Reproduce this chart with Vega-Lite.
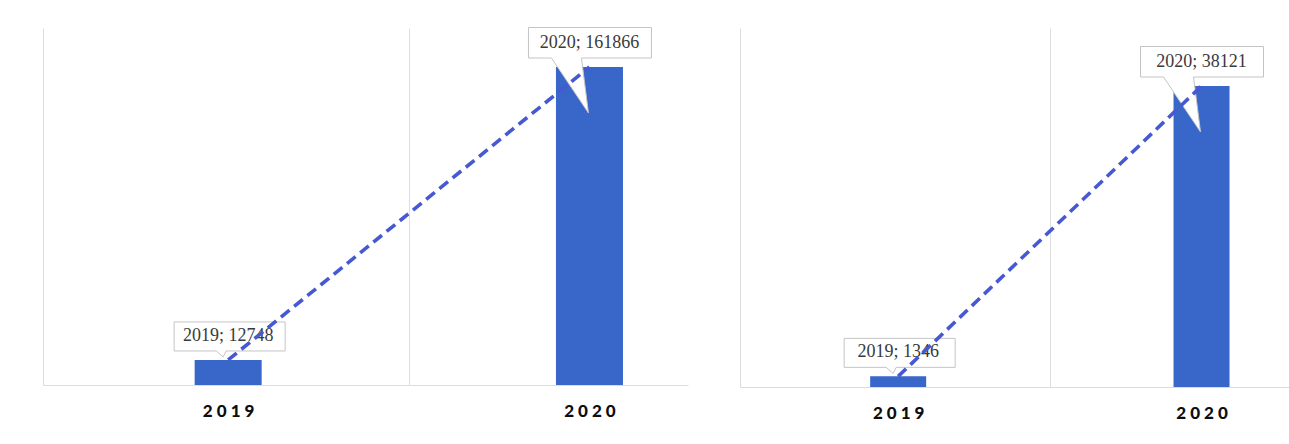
{
  "$schema": "https://vega.github.io/schema/vega-lite/v6.json",
  "background": "white",
  "padding": {"left": 43, "top": 25, "right": 0, "bottom": 0},
  "spacing": 52,
  "config": {"view": {"stroke": null}},
  "datasets": {
    "left": [
      {"year": 2019, "value": 12748, "label": "2019; 12748"},
      {"year": 2020, "value": 161866, "label": "2020; 161866"}
    ],
    "right": [
      {"year": 2019, "value": 1346, "label": "2019; 1346"},
      {"year": 2020, "value": 38121, "label": "2020; 38121"}
    ]
  },
  "hconcat": [
    {
      "width": 645,
      "height": 357,
      "data": {"name": "left"},
      "encoding": {
        "x": {
          "field": "year", "type": "quantitative",
          "scale": {"domain": [2018.5014, 2020.2589], "nice": false, "zero": false},
          "axis": {
            "values": [2019, 2019.5, 2020],
            "title": null, "ticks": false, "domain": true, "domainColor": "#dcdcdc",
            "grid": true, "gridColor": "#dedede",
            "gridOpacity": {"condition": {"test": "datum.value == 2019.5", "value": 1}, "value": 0},
            "labelExpr": "datum.value == 2019.5 ? '' : join(split(toString(datum.value), ''), ' ')",
            "labelFont": "Lato", "labelFontWeight": 900, "labelFontSize": 17,
            "labelColor": "#0d0d0d", "labelPadding": 18, "labelOverlap": false, "labelFlush": false
          }
        },
        "y": {
          "field": "value", "type": "quantitative",
          "scale": {"domain": [0, 181718], "nice": false},
          "axis": {"title": null, "labels": false, "ticks": false, "grid": false, "domain": true, "domainColor": "#dcdcdc"}
        }
      },
      "layer": [
        {"mark": {"type": "bar", "width": 67, "color": "#3866C9"}},
        {
          "mark": {"type": "point", "filled": true, "fill": "white", "stroke": "#c4c4c4", "strokeWidth": 1, "size": 40000, "opacity": 1, "fillOpacity": 1, "strokeOpacity": 1},
          "encoding": {
            "shape": {
              "field": "year", "type": "nominal", "legend": null,
              "scale": {"domain": [2019, 2020], "range": [
                "M-0.54,-0.38H0.57V-0.09H-0.02L-0.05,-0.03L-0.12,-0.09H-0.54Z",
                "M-0.61,-0.395H0.62V-0.09H-0.08L-0.01,0.46L-0.38,-0.09H-0.61Z"
              ]}
            }
          }
        },
        {
          "mark": {"type": "text", "font": "Liberation Serif", "fontSize": 18, "color": "#3a3a3a", "dy": -24},
          "encoding": {"text": {"field": "label"}}
        },
        {"mark": {"type": "line", "strokeDash": [11, 6], "strokeWidth": 3.6, "color": "#4659D2"}}
      ]
    },
    {
      "width": 549,
      "height": 359,
      "data": {"name": "right"},
      "encoding": {
        "x": {
          "field": "year", "type": "quantitative",
          "scale": {"domain": [2018.49515, 2020.27185], "nice": false, "zero": false},
          "axis": {
            "values": [2019, 2019.5, 2020],
            "title": null, "ticks": false, "domain": true, "domainColor": "#dcdcdc",
            "grid": true, "gridColor": "#dedede",
            "gridOpacity": {"condition": {"test": "datum.value == 2019.5", "value": 1}, "value": 0},
            "labelExpr": "datum.value == 2019.5 ? '' : join(split(toString(datum.value), ''), ' ')",
            "labelFont": "Lato", "labelFontWeight": 900, "labelFontSize": 17,
            "labelColor": "#0d0d0d", "labelPadding": 18, "labelOverlap": false, "labelFlush": false
          }
        },
        "y": {
          "field": "value", "type": "quantitative",
          "scale": {"domain": [0, 45467], "nice": false},
          "axis": {"title": null, "labels": false, "ticks": false, "grid": false, "domain": true, "domainColor": "#dcdcdc"}
        }
      },
      "layer": [
        {"mark": {"type": "bar", "width": 56, "color": "#3866C9"}},
        {
          "mark": {"type": "point", "filled": true, "fill": "white", "stroke": "#c4c4c4", "strokeWidth": 1, "size": 40000, "opacity": 1, "fillOpacity": 1, "strokeOpacity": 1},
          "encoding": {
            "shape": {
              "field": "year", "type": "nominal", "legend": null,
              "scale": {"domain": [2019, 2020], "range": [
                "M-0.51,-0.39H0.49V-0.09H-0.06L-0.09,-0.03L-0.16,-0.09H-0.51Z",
                "M-0.55,-0.38H0.53V-0.08H-0.07L0,0.42L-0.33,-0.08H-0.55Z"
              ]}
            }
          }
        },
        {
          "mark": {"type": "text", "font": "Liberation Serif", "fontSize": 18, "color": "#3a3a3a", "dy": -24},
          "encoding": {"text": {"field": "label"}}
        },
        {"mark": {"type": "line", "strokeDash": [11, 6], "strokeWidth": 3.6, "color": "#4659D2"}}
      ]
    }
  ]
}
